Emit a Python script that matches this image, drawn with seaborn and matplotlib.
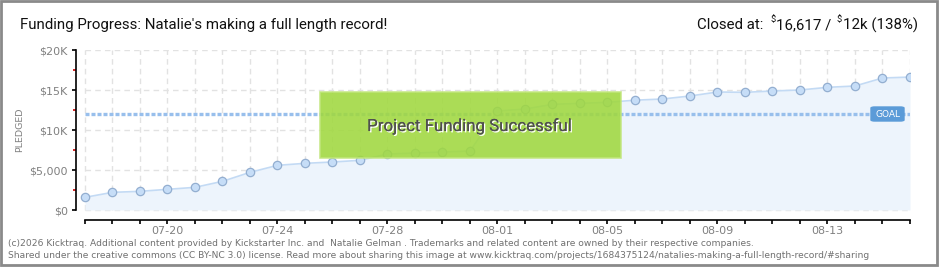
import numpy as np
import pandas as pd
import matplotlib
matplotlib.use("Agg")
import matplotlib.pyplot as plt
import seaborn as sns
from matplotlib.patches import Rectangle, FancyBboxPatch
import matplotlib.patheffects as pe

# ---- data ----
dates = ["07-17", "07-18", "07-19", "07-20", "07-21", "07-22", "07-23", "07-24",
         "07-25", "07-26", "07-27", "07-28", "07-29", "07-30", "07-31", "08-01",
         "08-02", "08-03", "08-04", "08-05", "08-06", "08-07", "08-08", "08-09",
         "08-10", "08-11", "08-12", "08-13", "08-14", "08-15", "08-16"]
pledged = [1583, 2208, 2333, 2583, 2833, 3583, 4708, 5583, 5833, 6000, 6208,
           7000, 7125, 7250, 7375, 12375, 12625, 13208, 13333, 13458, 13725,
           13875, 14250, 14750, 14708, 14875, 15000, 15333, 15500, 16500, 16617]
goal = 12000
ytick_values = [0, 5000, 10000, 15000, 20000]
ytick_labels = ["\\$0", "\\$5,000", "\\$10K", "\\$15K", "\\$20K"]
minor_ytick_values = [2500, 7500, 12500, 17500]
xlabel_every = 4
xlabel_start = 3

title_left = "Funding Progress: Natalie's making a full length record!"
closed_parts = ["Closed at:", "\\$", "16,617 /", "\\$", "12k (138%)"]
footer1 = ("(c)2026 Kicktraq. Additional content provided by Kickstarter Inc. and  Natalie Gelman . "
           "Trademarks and related content are owned by their respective companies.")
footer2 = ("Shared under the creative commons (CC BY-NC 3.0) license. Read more about sharing this image at "
           "www.kicktraq.com/projects/1684375124/natalies-making-a-full-length-record/#sharing")
success_text = "Project Funding Successful"

df = pd.DataFrame({"day": np.arange(len(dates)), "pledged": pledged, "date": dates})

sns.set_style("white")
plt.rcParams["font.family"] = ["DejaVu Sans"]
TITLE_FONT = ["Roboto", "DejaVu Sans"]

W, H = 940, 270
fig = plt.figure(figsize=(W / 100, H / 100), dpi=100)
renderer = fig.canvas.get_renderer()


def fx(px):
    return px / W


def fy(py):
    return 1 - py / H


def width_px(t):
    return t.get_window_extent(renderer).width


def fit(t, target):
    t.set_fontsize(t.get_fontsize() * target / width_px(t))


ax = fig.add_axes([fx(76), fy(220), fx(910) - fx(76), fy(50) - fy(220)])
n = len(dates)
ax.set_xlim(-0.327, n - 1)
ax.set_ylim(-1250, 20000)

# grid (limited to the data area)
ax.vlines(df["day"], 0, 20000, colors="#e2e2e2", linestyles=(0, (4, 3)), lw=1, zorder=0)
ax.hlines(ytick_values, 0, n - 1, colors="#e2e2e2", linestyles=(0, (4, 3)), lw=1, zorder=0)

# area + line
ax.fill_between(df["day"], df["pledged"], 0, color="#edf4fc", zorder=1, lw=0)
sns.lineplot(data=df, x="day", y="pledged", ax=ax, color="#c3daf4", lw=1.2,
             marker="o", markersize=6, markerfacecolor="#c6ddf7",
             markeredgecolor="#93aed0", markeredgewidth=0.9, zorder=3)

# goal line
ax.hlines(goal, 0, n - 1, colors="#98bfec", linestyles=(0, (1.2, 0.6)), lw=2.4, zorder=2)

# spines & ticks
for s in ["top", "right"]:
    ax.spines[s].set_visible(False)
ax.spines["left"].set_bounds(0, 20000)
ax.spines["bottom"].set_bounds(0, n - 1)
for s in ["left", "bottom"]:
    ax.spines[s].set_color("black")
    ax.spines[s].set_linewidth(1.2)

ax.set_yticks(ytick_values)
ax.set_yticklabels(ytick_labels)
ax.set_yticks(minor_ytick_values, minor=True)
ax.tick_params(axis="y", which="major", length=3, width=1.2, color="black",
               labelsize=8, labelcolor="#808080", pad=3, left=True)
ax.tick_params(axis="y", which="minor", length=2, width=1.2, color="#cc0000", left=True)

ax.set_xticks(df["day"])
ax.set_xticklabels([d if (i - xlabel_start) % xlabel_every == 0 and i >= xlabel_start else ""
                    for i, d in enumerate(dates)])
ax.tick_params(axis="x", which="major", length=3, width=1.2, color="black",
               labelsize=8, labelcolor="#808080", pad=1.5, bottom=True)
ax.set_xlabel("")
ax.set_ylabel("")

# y label
fig.text(fx(20), fy(130), "PLEDGED", rotation=90, ha="center", va="center",
         fontsize=6.8, color="#808080")

# success box
box = Rectangle((fx(320), fy(158)), fx(621) - fx(320), fy(92) - fy(158),
                transform=fig.transFigure, facecolor="#a0d83f", alpha=0.88,
                edgecolor="#c2e67e", lw=1.2, zorder=10)
fig.patches.append(box)
st = fig.text(fx(469), fy(126), success_text, ha="center", va="center",
              fontsize=14, color="#505050", zorder=11, family=TITLE_FONT,
              path_effects=[pe.withSimplePatchShadow(offset=(1, -1), shadow_rgbFace="white", alpha=1),
                            pe.Normal()])
fit(st, 206)

# goal label
gbox = FancyBboxPatch((fx(871), fy(121)), fx(904) - fx(871), fy(107) - fy(121),
                      boxstyle="round,pad=0,rounding_size=0.004",
                      transform=fig.transFigure, facecolor="#5b9bd8", edgecolor="#5b9bd8",
                      zorder=10)
fig.patches.append(gbox)
fig.text(fx(887.5), fy(114), "GOAL", ha="center", va="center", fontsize=6.5,
         color="white", zorder=11)

# left title
tl = fig.text(fx(20), fy(25), title_left, ha="left", va="center", fontsize=12,
              color="#111111", family=TITLE_FONT)
fit(tl, 368)
big_fs = tl.get_fontsize()

# right title, built from parts with small raised dollar signs
texts = []
for i, p in enumerate(closed_parts):
    small = p == "\\$"
    t = fig.text(0, fy(25) + (0.018 if small else 0), p, ha="left", va="center",
                 fontsize=big_fs * (0.62 if small else 1.0), color="#111111", family=TITLE_FONT)
    texts.append(t)
gaps = [7, 1, 5, 1, 0]
total = sum(width_px(t) for t in texts) + sum(gaps)
x = 918 - total
for t, g in zip(texts, gaps):
    t.set_x(fx(x))
    x += width_px(t) + g

# footer
fig.text(fx(8), fy(243), footer1, ha="left", va="center", fontsize=6.6, color="#707070")
fig.text(fx(8), fy(256), footer2, ha="left", va="center", fontsize=6.6, color="#707070")

# border
border = Rectangle((fx(1), fy(265)), fx(937) - fx(1), fy(1) - fy(265), transform=fig.transFigure,
                   fill=False, edgecolor="#8a8a8a", lw=2)
fig.patches.append(border)

fig.savefig("out.png", dpi=100)
